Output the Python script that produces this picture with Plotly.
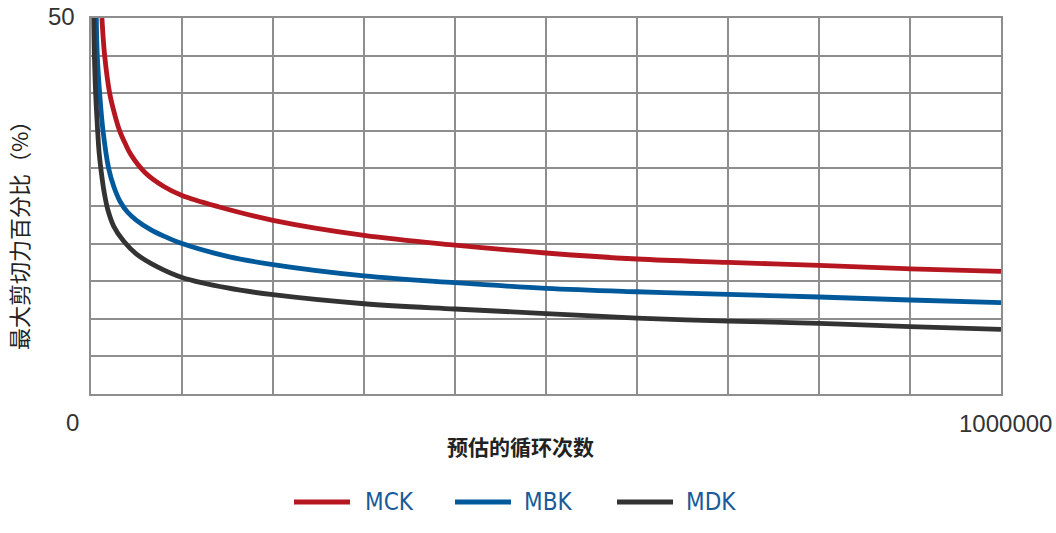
import plotly.graph_objects as go

# ---- data ----
mck_cycles = [12000, 15000, 20500, 26000, 31500, 38000, 44000, 59000, 80000, 100000, 140000,
              200000, 300000, 400000, 500000, 600000, 700000, 800000, 900000, 1000000]
mck_pct = [50.0, 45.0, 40.0, 37.2, 35.0, 33.2, 31.8, 29.5, 27.6, 26.4, 24.9,
           23.1, 21.1, 19.8, 18.75, 17.95, 17.5, 17.1, 16.65, 16.3]

mbk_cycles = [5800, 6900, 9500, 13200, 19400, 25300, 32000, 40000, 50000, 65000, 80000, 100000,
              150000, 200000, 300000, 400000, 500000, 600000, 700000, 800000, 900000, 1000000]
mbk_pct = [50.0, 45.0, 40.0, 35.0, 30.0, 27.5, 25.6, 24.2, 23.1, 21.9, 21.0, 20.0,
           18.3, 17.2, 15.7, 14.8, 14.05, 13.6, 13.25, 12.9, 12.5, 12.15]

mdk_cycles = [3000, 3700, 5100, 7300, 9000, 11300, 14500, 18500, 25000, 36000, 50000, 73000,
              100000, 150000, 200000, 300000, 400000, 500000, 600000, 700000, 800000, 900000, 1000000]
mdk_pct = [50.0, 45.0, 40.0, 35.0, 32.0, 29.5, 26.8, 24.5, 22.3, 20.3, 18.6, 16.9,
           15.5, 14.1, 13.2, 12.0, 11.3, 10.7, 10.1, 9.7, 9.4, 8.95, 8.6]

series_names = ["MCK", "MBK", "MDK"]
series_colors = ["#b5161f", "#00599b", "#333333"]

x_min, x_max = 0, 1000000
y_min, y_max = 0, 50
x_title = "预估的循环次数"
y_title = "最大剪切力百分比（%）"

fig = go.Figure()
for name, xs, ys, col in zip(series_names,
                             [mck_cycles, mbk_cycles, mdk_cycles],
                             [mck_pct, mbk_pct, mdk_pct],
                             series_colors):
    fig.add_trace(go.Scatter(x=xs, y=ys, mode="lines", name=name,
                             line=dict(color=col, width=4.8, shape="spline", smoothing=1.0),
                             showlegend=False))

grid_col = "#8e8e8e"
fig.update_xaxes(range=[x_min, x_max], dtick=100000, showgrid=True, gridcolor=grid_col,
                 gridwidth=1.5, showticklabels=False, ticks="", zeroline=False,
                 showline=True, linecolor=grid_col, linewidth=1.5, mirror=True)
fig.update_yaxes(range=[y_min, y_max], dtick=5, showgrid=True, gridcolor=grid_col,
                 gridwidth=1.5, showticklabels=False, ticks="", zeroline=False,
                 showline=True, linecolor=grid_col, linewidth=1.5, mirror=True)

W, H = 1056, 533
L, R, T, B = 91, 55, 18, 139
pw, ph = W - L - R, H - T - B

def px(xp):
    return (xp - L) / pw

def py(yp):
    return (H - B - yp) / ph

num_font = dict(family="Liberation Sans, Arial, sans-serif", size=24, color="#333333")
annotations = [
    dict(text=str(y_max), x=px(77), y=py(16), xref="paper", yref="paper",
         xanchor="right", yanchor="middle", showarrow=False, font=num_font),
    dict(text=str(x_min), x=px(72), y=py(422), xref="paper", yref="paper",
         xanchor="center", yanchor="middle", showarrow=False, font=num_font),
    dict(text=str(x_max), x=px(1005), y=py(423), xref="paper", yref="paper",
         xanchor="center", yanchor="middle", showarrow=False, font=num_font),
    dict(text="<b>" + x_title + "</b>", x=px(520), y=py(446), xref="paper", yref="paper",
         xanchor="center", yanchor="middle", showarrow=False,
         font=dict(family="Noto Sans CJK SC", size=21, color="#222222")),
    dict(text=y_title, x=px(18), y=py(230), xref="paper", yref="paper",
         xanchor="center", yanchor="middle", showarrow=False, textangle=-90,
         font=dict(family="Noto Sans CJK SC", size=22, color="#222222")),
]

# custom legend
shapes = []
leg_y = py(502)
leg_items = [(294, 350, 363), (455, 511, 522), (617, 673, 684)]
for (x0, x1, tx), name, col in zip(leg_items, series_names, series_colors):
    shapes.append(dict(type="line", xref="paper", yref="paper", x0=px(x0), x1=px(x1),
                       y0=leg_y, y1=leg_y, line=dict(color=col, width=5)))
    annotations.append(dict(text=name, x=px(tx), y=leg_y, xref="paper", yref="paper",
                            xanchor="left", yanchor="middle", showarrow=False,
                            font=dict(family="Liberation Sans Narrow, Arial Narrow, DejaVu Sans Condensed, sans-serif",
                                      size=24, color="#1a5a9a")))

fig.update_layout(width=W, height=H, margin=dict(l=L, r=R, t=T, b=B),
                  plot_bgcolor="white", paper_bgcolor="white",
                  annotations=annotations, shapes=shapes)

fig.write_html("out.html")
